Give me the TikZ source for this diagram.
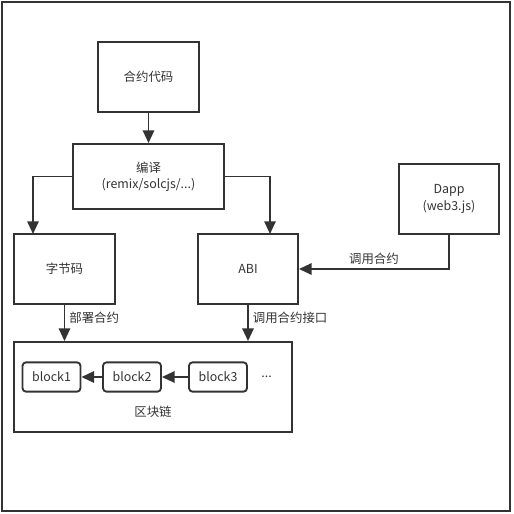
\documentclass[tikz,border=0pt]{standalone}
\usepackage{fontspec}
\setmainfont{Noto Sans CJK SC}
\usepackage{tikz}
\usetikzlibrary{arrows.meta, positioning, calc}
\definecolor{lineGray}{HTML}{333333}

\begin{document}
\begin{tikzpicture}[
    x=0.03cm, y=-0.03cm,
    box/.style={rectangle, draw=lineGray, line width=1.6pt, align=center, font=\fontsize{10.6}{13.8}\selectfont, text=lineGray},
    blk/.style={rectangle, draw=lineGray, line width=1.6pt, rounded corners=3pt, minimum width=1.74cm, minimum height=0.88cm, font=\fontsize{10.6}{13.8}\selectfont, text=lineGray},
    arrow/.style={-{Triangle[length=3.8mm, width=3.4mm]}, line width=1.6pt, draw=lineGray},
    label/.style={font=\fontsize{10.6}{13.8}\selectfont, text=lineGray}
]
    \useasboundingbox (0,0) rectangle (513,514);
    \draw[lineGray, line width=1.4pt] (2,2) rectangle (510,511);

    % Top
    \node[box, minimum width=3.03cm, minimum height=2.1cm] (src) at (148.5,77) {合约代码};
    \node[box, minimum width=4.53cm, minimum height=1.95cm] (compile) at (148.5,176.5) {编译\\(remix/solcjs/...)};

    % Middle row
    \node[box, minimum width=3.03cm, minimum height=2.1cm] (bytecode) at (64.5,269) {字节码};
    \node[box, minimum width=3cm, minimum height=2.1cm] (abi) at (248,269) {ABI};
    \node[box, minimum width=3cm, minimum height=2.1cm] (dapp) at (449,199) {Dapp\\(web3.js)};

    % Chain
    \node[box, minimum width=8.34cm, minimum height=2.7cm] (chain) at (153,387) {};
    \node[blk] (b1) at (51.5,377) {block1};
    \node[blk] (b2) at (132,377) {block2};
    \node[blk] (b3) at (218,377) {block3};
    \node[label, right=0.28cm of b3] (more) {...};
    \node[label] (chainlbl) at (153,412) {区块链};

    \coordinate (bcin) at (33,234);
    \coordinate (abiin) at (270,234);

    % Arrows
    \draw[arrow] (src) -- (compile);
    \draw[arrow] (compile.west) -| (bcin);
    \draw[arrow] (compile.east) -| (abiin);
    \draw[arrow] (dapp.south) |- node[pos=0.75, above, label] {调用合约} (abi.east);
    \draw[arrow] (bytecode.south) -- node[right, label, pos=0.35] {部署合约} (bytecode.south |- chain.north);
    \draw[arrow] (abi.south) -- node[right, label, pos=0.35] {调用合约接口} (abi.south |- chain.north);
    \draw[arrow] (b2) -- (b1);
    \draw[arrow] (b3) -- (b2);
\end{tikzpicture}
\end{document}
